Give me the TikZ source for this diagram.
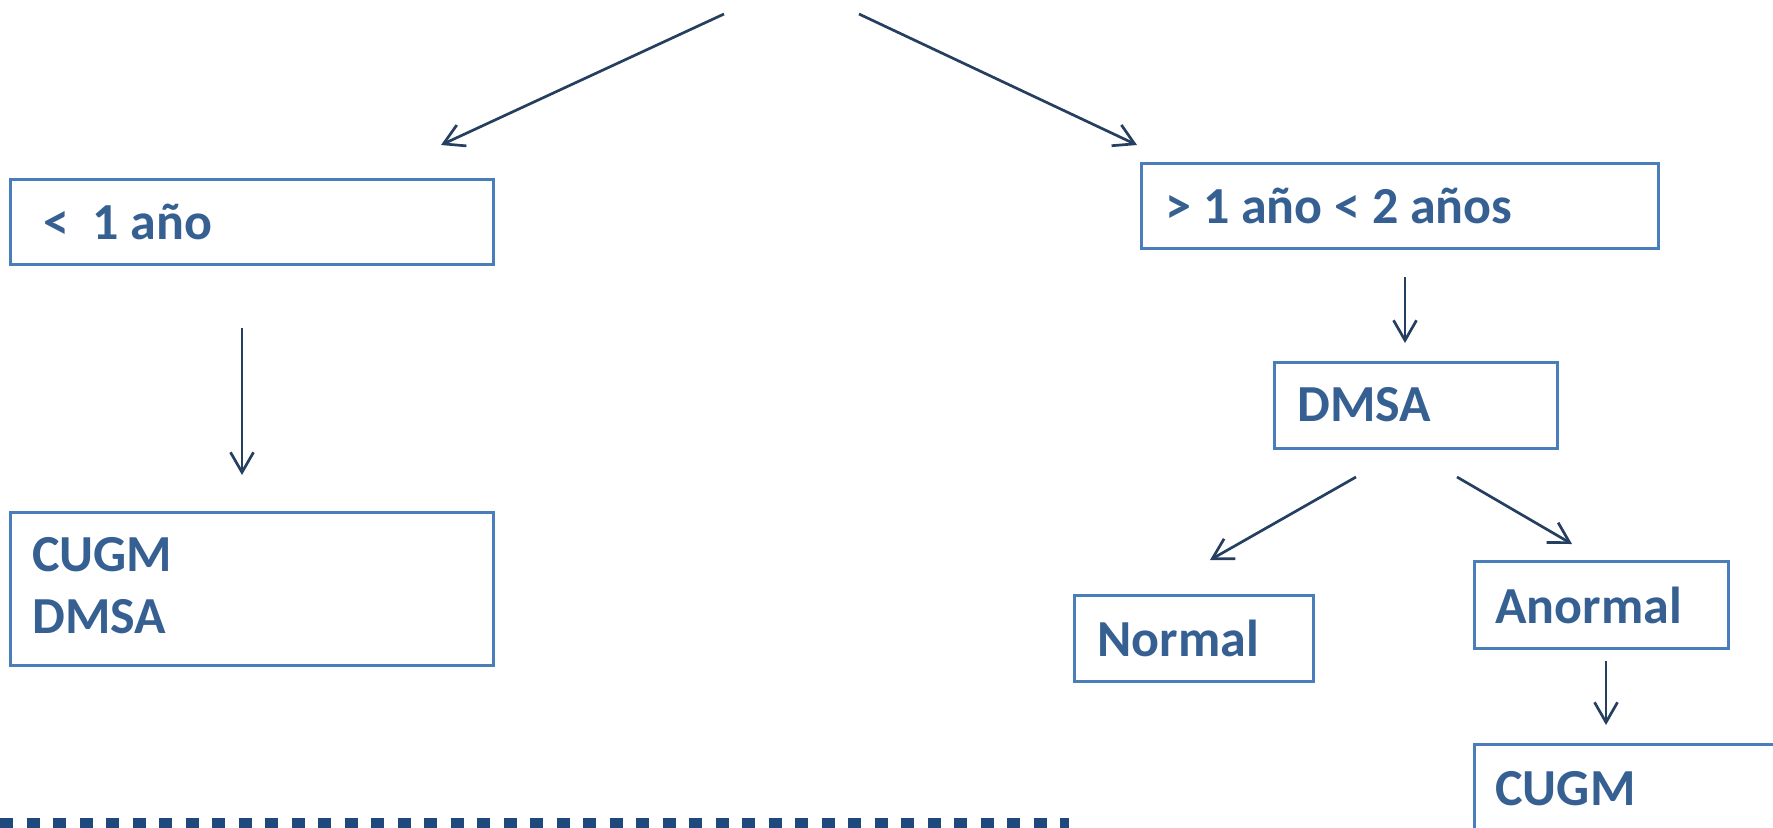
\documentclass[tikz,border=0pt]{standalone}
\usepackage{fontspec}
\setmainfont{Carlito}
\usetikzlibrary{arrows.meta}
\definecolor{txt}{HTML}{376092}
\definecolor{brd}{HTML}{4A7EBB}
\definecolor{arr}{HTML}{243F60}
\definecolor{dotc}{HTML}{1F497D}
\begin{document}
\begin{tikzpicture}[x=0.5pt,y=-0.5pt,
  box/.style={draw=brd,line width=1.5pt,inner sep=0pt,anchor=north west},
  lbl/.style={text=txt,font=\fontsize{26}{31}\selectfont\bfseries,anchor=base west,inner sep=0pt},
  arrow/.style={draw=arr,line width=1.35pt,-{Straight Barb[length=10pt,width=11.5pt]}}]
\useasboundingbox (0,0) rectangle (1773,827);
\clip (0,0) rectangle (1773,827);
% boxes
\node[box,minimum width=241.5pt,minimum height=42.5pt] (A) at (9,178) {};
\node[box,minimum width=241.5pt,minimum height=76.5pt] (B) at (9,511) {};
\node[box,minimum width=258.5pt,minimum height=42.5pt] (C) at (1140,162) {};
\node[box,minimum width=141.5pt,minimum height=43pt] (D) at (1273,361) {};
\node[box,minimum width=119.5pt,minimum height=43pt] (E) at (1073,594) {};
\node[box,minimum width=127pt,minimum height=43.5pt] (F) at (1473,560) {};
\node[box,minimum width=200pt,minimum height=60pt] (G) at (1473,743) {};
% labels
\node[lbl] (tA) at (43,239) {<\ \ 1 año};
\node[lbl] (tB1) at (32,571) {CUGM};
\node[lbl] (tB2) at (32,633) {DMSA};
\node[lbl] (tC) at (1165,223) {> 1 año < 2 años};
\node[lbl] (tD) at (1297,421) {DMSA};
\node[lbl] (tE) at (1097,656) {Normal};
\node[lbl] (tF) at (1495,623) {Anormal};
\node[lbl] (tG) at (1495,805) {CUGM};
% arrow end points
\coordinate (s1) at (724,14);
\coordinate (e1) at (441,145);
\coordinate (s2) at (859,14);
\coordinate (e2) at (1137,145);
\coordinate (s3) at (242,328);
\coordinate (e3) at (242,475);
\coordinate (s4) at (1405,277);
\coordinate (e4) at (1405,343);
\coordinate (s5) at (1356,477);
\coordinate (e5) at (1210,560);
\coordinate (s6) at (1457,477);
\coordinate (e6) at (1572,544);
\coordinate (s7) at (1606,661);
\coordinate (e7) at (1606,725);
\draw[arrow] (s1) -- (e1);
\draw[arrow] (s2) -- (e2);
\draw[arrow] (s3) -- (e3);
\draw[arrow] (s4) -- (e4);
\draw[arrow] (s5) -- (e5);
\draw[arrow] (s6) -- (e6);
\draw[arrow] (s7) -- (e7);
% dotted rule
\coordinate (d1) at (0,825);
\coordinate (d2) at (1069,825);
\draw[dotc,line width=7pt,dash pattern=on 6.6pt off 6.65pt] (d1) -- (d2);
\end{tikzpicture}
\end{document}
